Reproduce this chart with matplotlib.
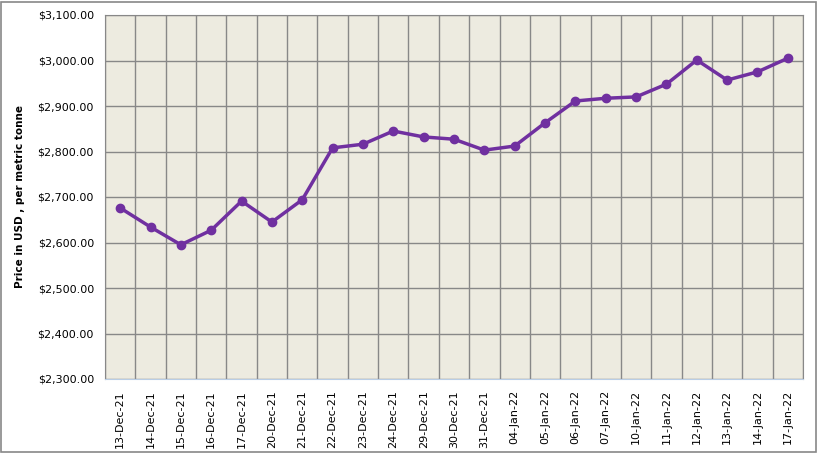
import matplotlib.pyplot as plt
import numpy as np

dates = ['13-Dec-21', '14-Dec-21', '15-Dec-21', '16-Dec-21', '17-Dec-21', '20-Dec-21',
         '21-Dec-21', '22-Dec-21', '23-Dec-21', '24-Dec-21', '29-Dec-21', '30-Dec-21',
         '31-Dec-21', '04-Jan-22', '05-Jan-22', '06-Jan-22', '07-Jan-22', '10-Jan-22',
         '11-Jan-22', '12-Jan-22', '13-Jan-22', '14-Jan-22', '17-Jan-22']
prices = [2676, 2634, 2595, 2627, 2691, 2645, 2694, 2808, 2816, 2845, 2832, 2827,
          2803, 2812, 2863, 2911, 2917, 2920, 2948, 3001, 2957, 2975, 3005]
yticks = np.arange(2300, 3101, 100)

fig = plt.figure(figsize=(8.18, 4.53), dpi=100)
ax = fig.add_axes([105 / 818, 1 - 379 / 453, (803 - 105) / 818, (379 - 15) / 453])

x = np.arange(len(dates))
ax.set_facecolor('#EDEBE0')
ax.plot(x, prices, color='#7030A0', lw=2.5, marker='o', ms=6, zorder=3)

ax.set_xlim(-0.5, len(dates) - 0.5)
ax.set_ylim(2300, 3100)
ax.set_yticks(yticks)
ax.set_yticklabels([f'${v:,.2f}' for v in yticks], fontsize=8)
ax.set_xticks(x)
ax.set_xticklabels(dates, rotation=90, fontsize=8)
ax.set_xticks(np.arange(-0.5, len(dates), 1), minor=True)
ax.tick_params(axis='both', length=0, pad=8)
ax.tick_params(axis='x', which='minor', length=0)
ax.grid(True, which='minor', axis='x', color='#888888', lw=1)
ax.grid(True, which='major', axis='y', color='#888888', lw=1)
ax.set_axisbelow(True)

for s in ['top', 'right', 'left']:
    ax.spines[s].set_color('#888888')
ax.spines['bottom'].set_color('#B9CDE5')

ax.set_ylabel('Price in USD , per metric tonne', fontsize=7.5, fontweight='bold', labelpad=9)

# border round the chart
fig.patches.append(plt.Rectangle((1 / 818, 1 / 453), 815 / 818, 450 / 453, transform=fig.transFigure,
                                 fill=False, edgecolor='#888888', lw=1.2))

fig.savefig('out.png', dpi=100)
